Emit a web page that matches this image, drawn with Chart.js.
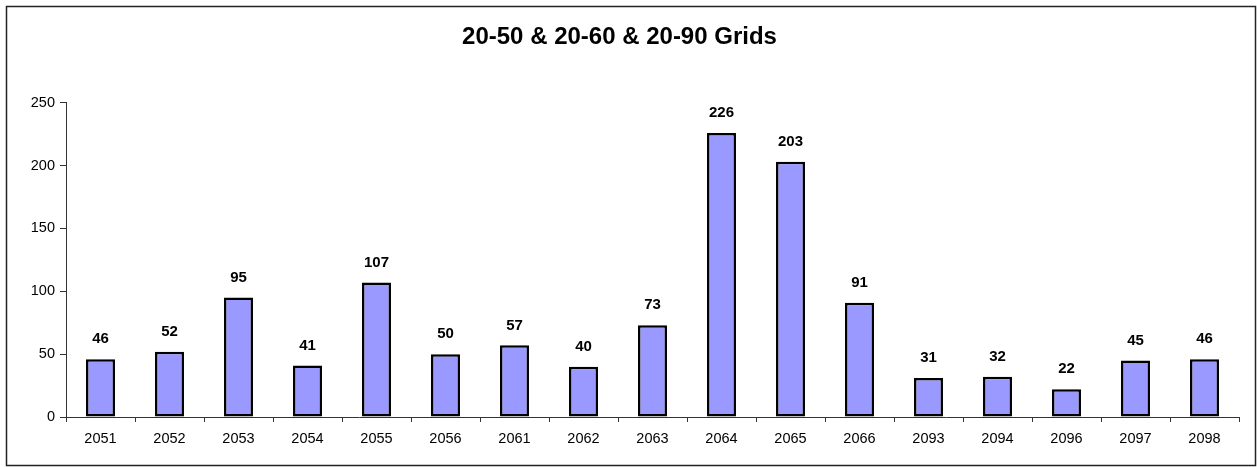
<!DOCTYPE html>
<html>
<head>
<meta charset="utf-8">
<script src="https://cdn.jsdelivr.net/npm/chart.js@4/dist/chart.umd.min.js"></script>
<style>
  html, body { margin: 0; padding: 0; background: #fff; }
  #wrap { width: 1257px; height: 467px; }
</style>
</head>
<body>
<div id="wrap"><canvas id="c" width="1257" height="467"></canvas></div>
<script>
const categories = ['2051','2052','2053','2054','2055','2056','2061','2062','2063','2064','2065','2066','2093','2094','2096','2097','2098'];
const counts = [46, 52, 95, 41, 107, 50, 57, 40, 73, 226, 203, 91, 31, 32, 22, 45, 46];
const yTicks = [0, 50, 100, 150, 200, 250];

const FONT = '"Liberation Sans", Arial, sans-serif';

// White background with a thin frame around the whole chart
const framePlugin = {
  id: 'frame',
  beforeDraw(chart) {
    const ctx = chart.ctx;
    ctx.save();
    ctx.fillStyle = '#ffffff';
    ctx.fillRect(0, 0, chart.width, chart.height);
    ctx.strokeStyle = '#222222';
    ctx.lineWidth = 1.5;
    ctx.strokeRect(6.5, 6.5, chart.width - 8, chart.height - 8);
    ctx.restore();
  }
};

// Bold value labels above each bar
const valueLabels = {
  id: 'valueLabels',
  afterDatasetsDraw(chart) {
    const ctx = chart.ctx;
    const meta = chart.getDatasetMeta(0);
    const data = chart.data.datasets[0].data;
    ctx.save();
    ctx.font = 'bold 15px ' + FONT;
    ctx.fillStyle = '#000';
    ctx.textAlign = 'center';
    ctx.textBaseline = 'middle';
    meta.data.forEach((bar, i) => {
      ctx.fillText(String(data[i]), bar.x, bar.y - 20);
    });
    ctx.restore();
  }
};

new Chart(document.getElementById('c'), {
  type: 'bar',
  data: {
    labels: categories,
    datasets: [{
      data: counts,
      backgroundColor: '#9999FF',
      borderColor: '#000000',
      borderWidth: 2.5,
      borderSkipped: false,
      categoryPercentage: 1,
      barPercentage: 0.42
    }]
  },
  options: {
    responsive: false,
    animation: false,
    devicePixelRatio: 1,
    layout: { padding: { top: 0, left: 0, right: 18, bottom: 0 } },
    plugins: {
      legend: { display: false },
      tooltip: { enabled: false },
      title: {
        display: true,
        text: '20-50 & 20-60 & 20-90 Grids',
        color: '#000',
        font: { family: FONT, size: 24, weight: 'bold' },
        padding: { top: 23, bottom: 51 }
      }
    },
    scales: {
      x: {
        offset: true,
        grid: {
          offset: true,
          drawOnChartArea: false,
          drawTicks: true,
          tickLength: 5,
          color: '#333'
        },
        border: { color: '#333', width: 1 },
        ticks: {
          color: '#000',
          font: { family: FONT, size: 14.5 },
          padding: 8,
          maxRotation: 0,
          autoSkip: false
        },
        afterFit(scale) { scale.height = 50; }
      },
      y: {
        min: 0,
        max: 250,
        afterBuildTicks(scale) { scale.ticks = yTicks.map(v => ({ value: v })); },
        grid: {
          drawOnChartArea: false,
          drawTicks: true,
          tickLength: 6,
          color: '#333'
        },
        border: { color: '#333', width: 1 },
        ticks: {
          color: '#000',
          font: { family: FONT, size: 14.5 },
          padding: 5
        },
        afterFit(scale) { scale.width = 66; }
      }
    }
  },
  plugins: [framePlugin, valueLabels]
});
</script>
</body>
</html>
